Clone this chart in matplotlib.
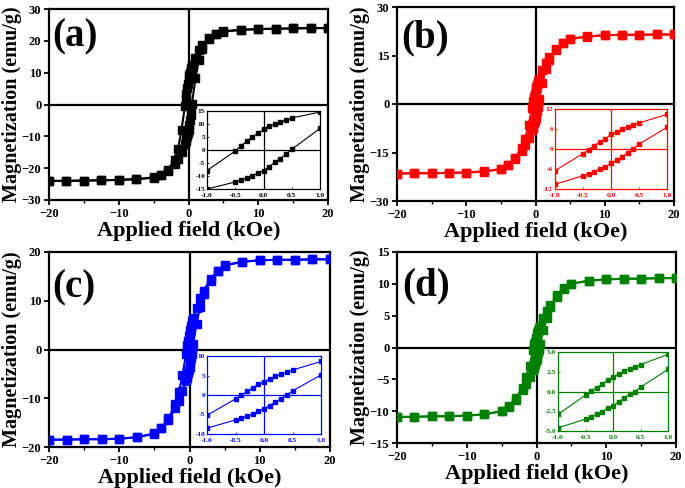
import matplotlib
matplotlib.use("Agg")
import matplotlib.pyplot as plt

plt.rcParams['font.family'] = ['Liberation Serif', 'DejaVu Serif']
plt.rcParams['font.weight'] = 'bold'

# Field values for the descending branch (kOe)
H = [20, 17.5, 15, 12.5, 10, 7.5, 5, 4, 3, 2, 1.5, 1, 0.5, 0.4, 0.3, 0.2, 0.1, 0,
     -0.1, -0.2, -0.3, -0.4, -0.5, -1, -1.5, -2, -3, -4, -5, -7.5, -10, -12.5, -15, -17.5, -20]

# (a) black
a_upper = [24.0, 24.0, 23.9, 23.8, 23.7, 23.5, 23.0, 22.3, 21.0, 18.8, 17.2, 14.6, 12.3, 11.6, 10.8, 9.9, 9.15, 7.9,
           6.35, 5.1, 3.3, 1.65, -0.4, -7.9, -14.0, -17.5, -20.6, -22.2, -22.9, -23.4, -23.7, -23.8, -23.9, -24.0, -24.0]
a_lower = [24.0, 24.0, 23.9, 23.8, 23.7, 23.4, 22.9, 22.2, 20.6, 17.5, 14.0, 8.3, 0.25, -1.5, -3.3, -4.8, -6.35, -7.9,
           -8.9, -10.0, -10.8, -11.6, -12.3, -15.0, -17.2, -18.8, -21.0, -22.3, -23.0, -23.5, -23.7, -23.8, -23.9, -24.0, -24.0]
# (b) red
b_upper = [21.5, 21.5, 21.4, 21.4, 21.3, 20.9, 20.2, 19.0, 17.1, 14.5, 12.6, 10.4, 7.8, 7.2, 6.6, 5.95, 5.15, 4.45,
           3.05, 2.05, 1.05, -0.25, -1.35, -6.5, -10.9, -13.5, -16.8, -18.9, -20.1, -20.8, -21.2, -21.3, -21.4, -21.4, -21.5]
b_lower = [21.5, 21.5, 21.4, 21.4, 21.3, 20.8, 20.1, 18.9, 16.8, 13.5, 10.9, 6.5, 1.45, 0.05, -1.05, -2.3, -3.3, -4.3,
           -5.3, -6.0, -6.8, -7.4, -8.0, -10.6, -12.6, -14.5, -17.1, -19.0, -20.2, -20.9, -21.2, -21.3, -21.4, -21.4, -21.5]
# (c) blue
c_upper = [18.5, 18.5, 18.4, 18.4, 18.3, 18.0, 17.3, 16.2, 14.5, 12.0, 10.5, 8.6, 6.4, 5.8, 5.3, 4.8, 4.1, 3.45,
           2.75, 1.75, 0.9, -0.1, -1.0, -5.2, -8.7, -11.2, -14.1, -16.1, -17.2, -18.0, -18.3, -18.4, -18.4, -18.5, -18.5]
c_lower = [18.5, 18.5, 18.4, 18.4, 18.3, 18.0, 17.2, 16.1, 14.1, 11.3, 8.8, 5.15, 1.05, 0.05, -1.0, -1.8, -2.7, -3.5,
           -4.2, -4.9, -5.4, -5.9, -6.4, -8.5, -10.5, -12.0, -14.5, -16.2, -17.3, -18.0, -18.3, -18.4, -18.4, -18.5, -18.5]
# (d) green
d_upper = [10.9, 10.9, 10.8, 10.8, 10.7, 10.5, 10.0, 9.3, 8.2, 6.6, 5.7, 4.7, 3.4, 3.1, 2.85, 2.55, 2.2, 1.8,
           1.45, 0.9, 0.5, 0.05, -0.45, -2.9, -4.7, -6.3, -8.0, -9.2, -10.0, -10.5, -10.7, -10.8, -10.8, -10.9, -10.9]
d_lower = [10.9, 10.9, 10.8, 10.8, 10.7, 10.5, 10.0, 9.2, 8.0, 6.35, 4.7, 2.8, 0.55, 0.0, -0.35, -0.85, -1.3, -1.8,
           -2.15, -2.55, -2.9, -3.2, -3.5, -4.6, -5.7, -6.6, -8.2, -9.3, -10.0, -10.5, -10.7, -10.8, -10.8, -10.9, -10.9]

labels = ['(a)', '(b)', '(c)', '(d)']
colors = ['black', '#ff0000', '#0000ff', '#008000']
uppers = [a_upper, b_upper, c_upper, d_upper]
lowers = [a_lower, b_lower, c_lower, d_lower]
main_yticks = [[-30, -20, -10, 0, 10, 20, 30], [-30, -15, 0, 15, 30],
               [-20, -10, 0, 10, 20], [-15, -10, -5, 0, 5, 10, 15]]
main_xticks = [-20, -10, 0, 10, 20]
inset_yticks = [[-15, -10, -5, 0, 5, 10, 15], [-12, -6, 0, 6, 12],
                [-10, -5, 0, 5, 10], [-5.0, -2.5, 0.0, 2.5, 5.0]]
inset_ylabels = [['-15', '-10', '-5', '0', '5', '10', '15'], ['-12', '-6', '0', '6', '12'],
                 ['-10', '-5', '0', '5', '10'], ['-5.0', '-2.5', '0.0', '2.5', '5.0']]
inset_xticks = [-1.0, -0.5, 0.0, 0.5, 1.0]
inset_xlabels = ['-1.0', '-0.5', '0.0', '0.5', '1.0']

W, Hh = 685, 488
fig = plt.figure(figsize=(6.85, 4.88), dpi=100)

# pixel boxes (left, top, right, bottom)
main_boxes = [(49, 9, 328, 200), (397, 7, 674, 201), (49, 252, 330, 447), (397, 252, 676, 443)]
inset_boxes = [(207, 111, 320, 189), (555, 109, 667, 189), (207, 356, 321, 434), (558, 352, 668, 431)]
label_pos = [(52, 37), (401, 38), (52, 288), (402, 286)]


def frac(box):
    l, t, r, b = box
    return [l / W, 1 - b / Hh, (r - l) / W, (b - t) / Hh]


for i in range(4):
    ax = fig.add_axes(frac(main_boxes[i]))
    col = colors[i]
    ax.plot(H, uppers[i], '-s', color=col, lw=1.5, ms=5.2, zorder=3)
    ax.plot(H[::-1], lowers[i][::-1], '-s', color=col, lw=1.5, ms=5.2, zorder=3)
    ax.axhline(0, color='black', lw=1.6, zorder=2)
    ax.axvline(0, color='black', lw=1.6, zorder=2)
    yt = main_yticks[i]
    ax.set_xlim(-20, 20)
    ax.set_ylim(yt[0], yt[-1])
    ax.set_xticks(main_xticks)
    ax.set_yticks(yt)
    ax.set_xticks([-15, -5, 5, 15], minor=True)
    ax.tick_params(axis='both', which='major', direction='out', length=3.5, width=1.3, labelsize=9, pad=2)
    ax.tick_params(axis='both', which='minor', direction='out', length=2, width=1.0)
    for lab in ax.get_xticklabels() + ax.get_yticklabels():
        lab.set_fontweight('bold')
    for s in ax.spines.values():
        s.set_linewidth(1.6)
    ax.set_xlabel('Applied field (kOe)', fontsize=16, fontweight='bold', labelpad=1)
    ax.set_ylabel('Magnetization (emu/g)', fontsize=14.5, fontweight='bold', labelpad=0)
    fig.text(label_pos[i][0] / W, 1 - label_pos[i][1] / Hh, labels[i], fontsize=28,
             fontweight='bold', ha='left', va='center')

    # inset
    ins = fig.add_axes(frac(inset_boxes[i]))
    ins.set_facecolor('white')
    ins.plot(H, uppers[i], '-s', color=col, lw=0.8, ms=2.6)
    ins.plot(H[::-1], lowers[i][::-1], '-s', color=col, lw=0.8, ms=2.6)
    ins.axhline(0, color=col, lw=0.9)
    ins.axvline(0, color=col, lw=0.9)
    yt2 = inset_yticks[i]
    ins.set_xlim(-1, 1)
    ins.set_ylim(yt2[0], yt2[-1])
    ins.set_xticks(inset_xticks)
    ins.set_xticklabels(inset_xlabels)
    ins.set_yticks(yt2)
    ins.set_yticklabels(inset_ylabels[i])
    ins.tick_params(axis='x', direction='in', length=1.5, width=0.6, labelsize=5.3, pad=2.8, colors=col)
    ins.tick_params(axis='y', direction='in', length=1.5, width=0.6, labelsize=5.3, pad=1.4, colors=col)
    for lab in ins.get_xticklabels() + ins.get_yticklabels():
        lab.set_fontweight('bold')
        lab.set_color(col)
    for s in ins.spines.values():
        s.set_color(col)
        s.set_linewidth(0.9)

fig.savefig('out.png', dpi=100)
